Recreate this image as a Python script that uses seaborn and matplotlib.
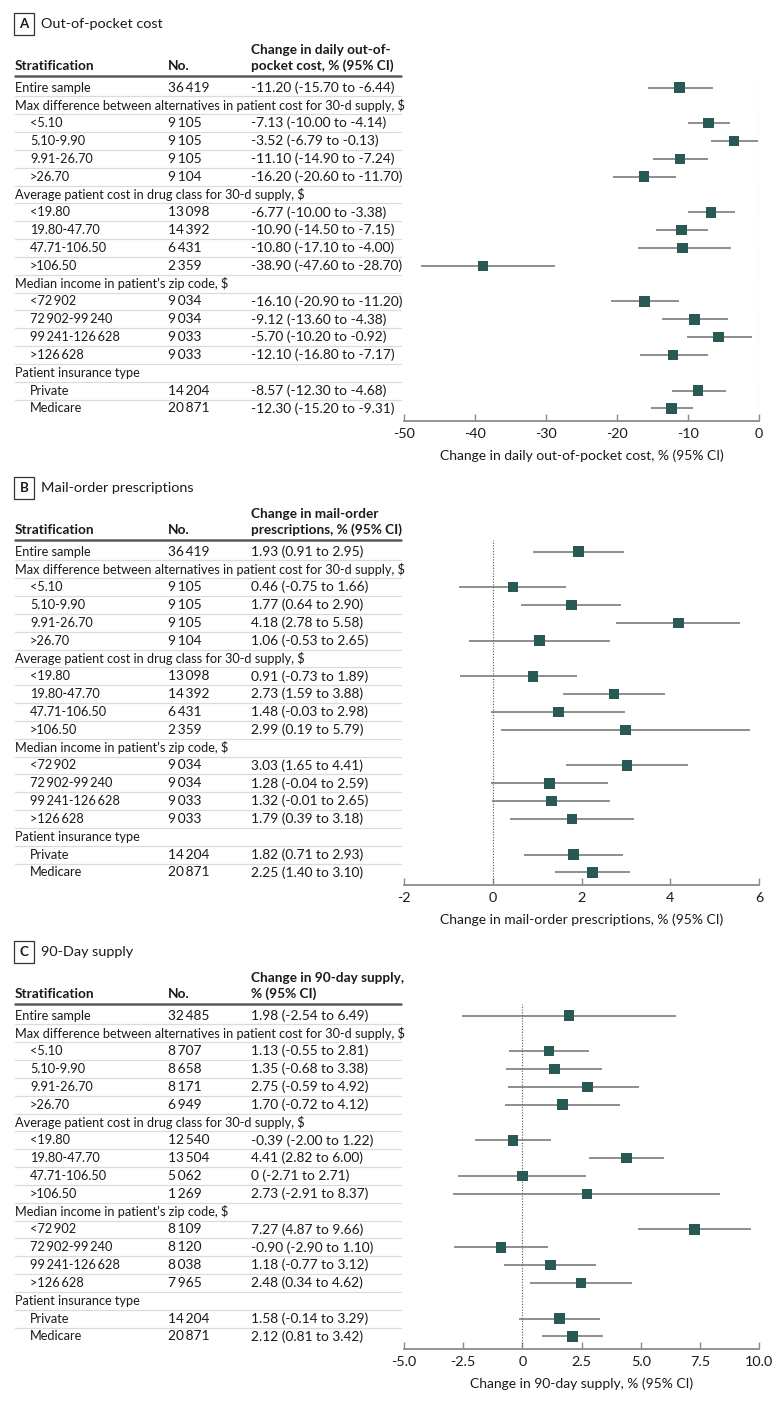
import matplotlib
matplotlib.use("Agg")
import matplotlib.pyplot as plt
import seaborn as sns
import numpy as np
import pandas as pd
from matplotlib.transforms import blended_transform_factory
from matplotlib.ticker import FixedLocator, FixedFormatter

# ---------------- data ----------------
row_labels = [
    "Entire sample",
    "Max difference between alternatives in patient cost for 30-d supply, $",
    "<5.10", "5.10-9.90", "9.91-26.70", ">26.70",
    "Average patient cost in drug class for 30-d supply, $",
    "<19.80", "19.80-47.70", "47.71-106.50", ">106.50",
    "Median income in patient\u2019s zip code, $",
    "<72\u2009902", "72\u2009902-99\u2009240", "99\u2009241-126\u2009628", ">126\u2009628",
    "Patient insurance type",
    "Private", "Medicare",
]
group_rows = [1, 6, 11, 16]
data_rows = [0, 2, 3, 4, 5, 7, 8, 9, 10, 12, 13, 14, 15, 17, 18]

# Panel A
a_n = [36419, 9105, 9105, 9105, 9104, 13098, 14392, 6431, 2359, 9034, 9034, 9033, 9033, 14204, 20871]
a_est = [-11.20, -7.13, -3.52, -11.10, -16.20, -6.77, -10.90, -10.80, -38.90, -16.10, -9.12, -5.70, -12.10, -8.57, -12.30]
a_lo = [-15.70, -10.00, -6.79, -14.90, -20.60, -10.00, -14.50, -17.10, -47.60, -20.90, -13.60, -10.20, -16.80, -12.30, -15.20]
a_hi = [-6.44, -4.14, -0.13, -7.24, -11.70, -3.38, -7.15, -4.00, -28.70, -11.20, -4.38, -0.92, -7.17, -4.68, -9.31]
a_ticks = [-50, -40, -30, -20, -10, 0]
a_ticklabels = ["-50", "-40", "-30", "-20", "-10", "0"]

# Panel B
b_n = [36419, 9105, 9105, 9105, 9104, 13098, 14392, 6431, 2359, 9034, 9034, 9033, 9033, 14204, 20871]
b_est = [1.93, 0.46, 1.77, 4.18, 1.06, 0.91, 2.73, 1.48, 2.99, 3.03, 1.28, 1.32, 1.79, 1.82, 2.25]
b_lo = [0.91, -0.75, 0.64, 2.78, -0.53, -0.73, 1.59, -0.03, 0.19, 1.65, -0.04, -0.01, 0.39, 0.71, 1.40]
b_hi = [2.95, 1.66, 2.90, 5.58, 2.65, 1.89, 3.88, 2.98, 5.79, 4.41, 2.59, 2.65, 3.18, 2.93, 3.10]
b_ticks = [-2, 0, 2, 4, 6]
b_ticklabels = ["-2", "0", "2", "4", "6"]

# Panel C
c_n = [32485, 8707, 8658, 8171, 6949, 12540, 13504, 5062, 1269, 8109, 8120, 8038, 7965, 14204, 20871]
c_est = [1.98, 1.13, 1.35, 2.75, 1.70, -0.39, 4.41, 0, 2.73, 7.27, -0.90, 1.18, 2.48, 1.58, 2.12]
c_lo = [-2.54, -0.55, -0.68, -0.59, -0.72, -2.00, 2.82, -2.71, -2.91, 4.87, -2.90, -0.77, 0.34, -0.14, 0.81]
c_hi = [6.49, 2.81, 3.38, 4.92, 4.12, 1.22, 6.00, 2.71, 8.37, 9.66, 1.10, 3.12, 4.62, 3.29, 3.42]
c_ticks = [-5.0, -2.5, 0, 2.5, 5.0, 7.5, 10.0]
c_ticklabels = ["-5.0", "-2.5", "0", "2.5", "5.0", "7.5", "10.0"]

panels = [
    dict(letter="A", title="Out-of-pocket cost",
         header=["Change in daily out-of-", "pocket cost, % (95% CI)"],
         xlabel="Change in daily out-of-pocket cost, % (95% CI)",
         n=a_n, est=a_est, lo=a_lo, hi=a_hi, ticks=a_ticks, ticklabels=a_ticklabels),
    dict(letter="B", title="Mail-order prescriptions",
         header=["Change in mail-order", "prescriptions, % (95% CI)"],
         xlabel="Change in mail-order prescriptions, % (95% CI)",
         n=b_n, est=b_est, lo=b_lo, hi=b_hi, ticks=b_ticks, ticklabels=b_ticklabels),
    dict(letter="C", title="90-Day supply",
         header=["Change in 90-day supply,", "% (95% CI)"],
         xlabel="Change in 90-day supply, % (95% CI)",
         n=c_n, est=c_est, lo=c_lo, hi=c_hi, ticks=c_ticks, ticklabels=c_ticklabels),
]

# ---------------- style ----------------
sns.set_theme(style="white")
plt.rcParams["font.family"] = ["Lato", "DejaVu Sans"]
plt.rcParams["axes.unicode_minus"] = False

W, H = 780, 1402
fig = plt.figure(figsize=(W / 100, H / 100), dpi=100)

TXT = "#1a1a1a"
MARK = "#285955"
CI_COL = "#707070"
SEP = "#dcdcd6"
FS_LAB = 9.2     # row labels
FS_NUM = 9.9     # numeric columns
FS_HEAD = 9.8    # bold headers
FS_AX = 10.0     # tick labels / axis label


def fx(px):
    return px / W


def fy(py):
    return 1 - py / H


def fmt_num(v):
    return f"{v:,}".replace(",", "\u2009")


def fmt_val(v):
    return "0" if v == 0 else f"{v:.2f}"


DY = 17.83
for k, p in enumerate(panels):
    off = 464 * k
    top_line = 76 + off
    row0 = 87.5 + off
    axis_y = 421 + off
    x_left, x_right = 404, 759

    ax = fig.add_axes([fx(x_left), fy(axis_y), (x_right - x_left) / W, (axis_y - top_line) / H])

    df = pd.DataFrame({"row": data_rows, "est": p["est"], "lo": p["lo"], "hi": p["hi"]})
    ax.axvline(0, ls=(0, (1, 1.5)), color="#555555", lw=0.8, zorder=1)
    ax.hlines(df["row"], df["lo"], df["hi"], color=CI_COL, lw=1.1, zorder=2)
    sns.scatterplot(data=df, x="est", y="row", marker="s", s=58, color=MARK,
                    edgecolor="none", ax=ax, zorder=3, legend=False)
    ax.set_ylim((axis_y - row0) / DY, (top_line - row0) / DY)
    ax.set_xlim(p["ticks"][0], p["ticks"][-1])

    for s in ["top", "left", "right"]:
        ax.spines[s].set_visible(False)
    ax.spines["bottom"].set_color("#8c8c8c")
    ax.spines["bottom"].set_linewidth(1.3)
    ax.xaxis.set_major_locator(FixedLocator(p["ticks"]))
    ax.xaxis.set_major_formatter(FixedFormatter(p["ticklabels"]))
    ax.tick_params(axis="x", direction="in", length=5, width=1, colors="#8c8c8c",
                   labelcolor=TXT, labelsize=FS_AX + 0.4, pad=5, bottom=True)
    ax.set_yticks([])
    ax.set_ylabel("")
    ax.set_xlabel(p["xlabel"], fontsize=FS_AX, color=TXT, labelpad=7)
    ax.grid(False)

    tr = blended_transform_factory(fig.transFigure, ax.transData)

    # title
    fig.text(fx(24), fy(24 + off), p["letter"], fontsize=9.6, fontweight="bold", color=TXT,
             ha="center", va="center",
             bbox=dict(boxstyle="square,pad=0.4", fc="white", ec="#333333", lw=0.9))
    fig.text(fx(41), fy(24 + off), p["title"], fontsize=10.4, color=TXT, ha="left", va="center")

    # headers
    fig.text(fx(15), fy(66 + off), "Stratification", fontsize=FS_HEAD, fontweight="bold",
             color=TXT, ha="left", va="center")
    fig.text(fx(168), fy(66 + off), "No.", fontsize=FS_HEAD, fontweight="bold",
             color=TXT, ha="left", va="center")
    fig.text(fx(251), fy(50 + off), p["header"][0], fontsize=FS_HEAD, fontweight="bold",
             color=TXT, ha="left", va="center")
    fig.text(fx(251), fy(66 + off), p["header"][1], fontsize=FS_HEAD, fontweight="bold",
             color=TXT, ha="left", va="center")
    fig.add_artist(plt.Line2D([fx(15), fx(401)], [fy(top_line), fy(top_line)],
                              color="#5a5a5a", lw=1.8))

    # table rows
    for i, lab in enumerate(row_labels):
        xpos = 15 if (i == 0 or i in group_rows) else 30
        fig.text(fx(xpos), i, lab, transform=tr, fontsize=FS_LAB,
                 color=TXT, ha="left", va="center")
        if i < len(row_labels) - 1:
            fig.add_artist(plt.Line2D([fx(15), fx(401)], [i + 0.5, i + 0.5],
                                      transform=tr, color=SEP, lw=0.9))
    for j, r in enumerate(data_rows):
        fig.text(fx(168), r, fmt_num(p["n"][j]), transform=tr, fontsize=FS_NUM, color=TXT,
                 ha="left", va="center")
        s = f"{fmt_val(p['est'][j])} ({fmt_val(p['lo'][j])} to {fmt_val(p['hi'][j])})"
        fig.text(fx(251), r, s, transform=tr, fontsize=FS_NUM, color=TXT, ha="left", va="center")

fig.savefig("out.png", dpi=100, facecolor="white")
